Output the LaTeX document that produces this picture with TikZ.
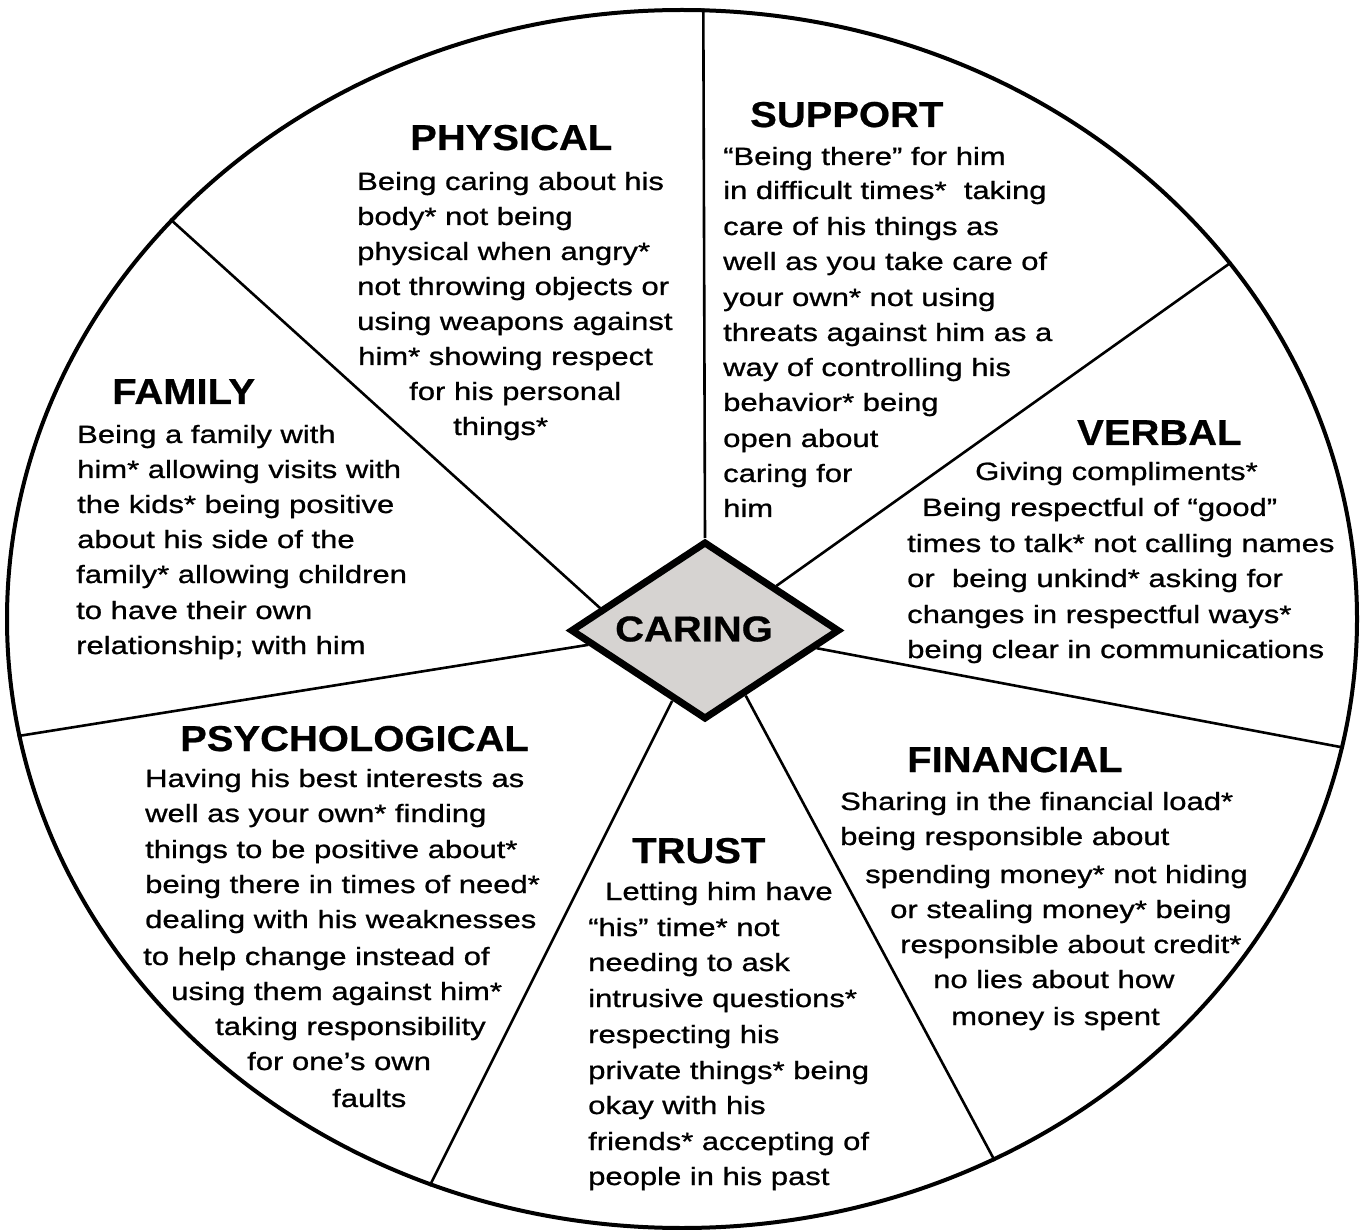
\documentclass[tikz,border=0pt]{standalone}
\usepackage{fontspec}
\setmainfont{Liberation Sans}
\newfontfamily\bodyfont{Liberation Sans}[FakeStretch=1.24,FakeBold=0.9]
\newfontfamily\headfont{Liberation Sans}[FakeStretch=1.11,FakeBold=0.6]
\usetikzlibrary{shapes.geometric}
\definecolor{hubgray}{RGB}{214,211,209}

\begin{document}
\begin{tikzpicture}[x=1pt,y=-1pt,
  body/.style={anchor=base west, inner sep=0pt,
    font=\bodyfont\fontsize{25pt}{30pt}\selectfont},
  head/.style={anchor=base west, inner sep=0pt,
    font=\headfont\bfseries\fontsize{36pt}{40pt}\selectfont},
  spoke/.style={line width=2.6pt},
]
\useasboundingbox[fill=white] (0,0) rectangle (1361,1230);

% outer wheel and central hub
\node[ellipse, draw, line width=4pt, inner sep=0pt,
      minimum width=1350pt, minimum height=1218pt] (wheel) at (682,619) {};
\node[diamond, draw, line width=7pt, fill=hubgray, aspect=1.5, inner sep=0pt,
      minimum width=269pt, minimum height=178pt] (hub) at (705,630.5) {};
\node[head, anchor=center] (hublabel) at (694,629) {CARING};

% spokes from the rim to the hub
\draw[spoke] (wheel.88)    -- (hub.north);
\draw[spoke] (wheel.142.2) -- (hub.168.9);
\draw[spoke] (wheel.33.1)  -- (hub.32.6);
\draw[spoke] (wheel.190.2) -- (hub.187.9);
\draw[spoke] (wheel.349.4) -- (hub.351.5);
\draw[spoke] (wheel.246)   -- (hub.245.6);
\draw[spoke] (wheel.300.3) -- (hub.302);

% sector headings
\node[head] (physical)      at (410,150) {PHYSICAL};
\node[head] (support)       at (750,127) {SUPPORT};
\node[head] (family)        at (112,404) {FAMILY};
\node[head] (verbal)        at (1077,445) {VERBAL};
\node[head] (psychological) at (180,751) {PSYCHOLOGICAL};
\node[head] (financial)     at (907,772) {FINANCIAL};
\node[head] (trust)         at (632,863) {TRUST};

% sector texts, one line per node
\foreach \x/\y/\t [count=\i] in {
  357/190/Being caring about his,
  357/225/body* not being,
  357/260/physical when angry*,
  357/295/not throwing objects or,
  357/330/using weapons against,
  358/365/him* showing respect,
  409/400/for his personal,
  453/435/things*}
  \node[body] (physical-\i) at (\x,\y) {\t};

\foreach \x/\y/\t [count=\i] in {
  723/165/“Being there” for him,
  723/199/in difficult times*~ taking,
  723/235/care of his things as,
  723/270/well as you take care of,
  723/306/your own* not using,
  723/341/threats against him as a,
  723/376/way of controlling his,
  723/411/behavior* being,
  723/447/open about,
  723/482/caring for,
  723/517/him}
  \node[body] (support-\i) at (\x,\y) {\t};

\foreach \x/\y/\t [count=\i] in {
  77/443/Being a family with,
  77/478/him* allowing visits with,
  77/513/the kids* being positive,
  77/548/about his side of the,
  76/583/family* allowing children,
  76/619/to have their own,
  76/654/relationship; with him}
  \node[body] (family-\i) at (\x,\y) {\t};

\foreach \x/\y/\t [count=\i] in {
  975/480/Giving compliments*,
  922/516/Being respectful of “good”,
  907/552/times to talk* not calling names,
  907/587/or~ being unkind* asking for,
  907/623/changes in respectful ways*,
  907/658/being clear in communications}
  \node[body] (verbal-\i) at (\x,\y) {\t};

\foreach \x/\y/\t [count=\i] in {
  145/787/Having his best interests as,
  145/822/well as your own* finding,
  145/858/things to be positive about*,
  145/893/being there in times of need*,
  145/928/dealing with his weaknesses,
  143/965/to help change instead of,
  171/1000/using them against him*,
  215/1035/taking responsibility,
  247/1070/for one’s own,
  332/1107/faults}
  \node[body] (psychological-\i) at (\x,\y) {\t};

\foreach \x/\y/\t [count=\i] in {
  840/810/Sharing in the financial load*,
  840/845/being responsible about,
  865/883/spending money* not hiding,
  890/918/or stealing money* being,
  900/953/responsible about credit*,
  933/988/no lies about how,
  951/1025/money is spent}
  \node[body] (financial-\i) at (\x,\y) {\t};

\foreach \x/\y/\t [count=\i] in {
  605/900/Letting him have,
  588/936/“his” time* not,
  588/971/needing to ask,
  588/1007/intrusive questions*,
  588/1043/respecting his,
  588/1079/private things* being,
  588/1114/okay with his,
  588/1150/friends* accepting of,
  588/1185/people in his past}
  \node[body] (trust-\i) at (\x,\y) {\t};
\end{tikzpicture}
\end{document}
